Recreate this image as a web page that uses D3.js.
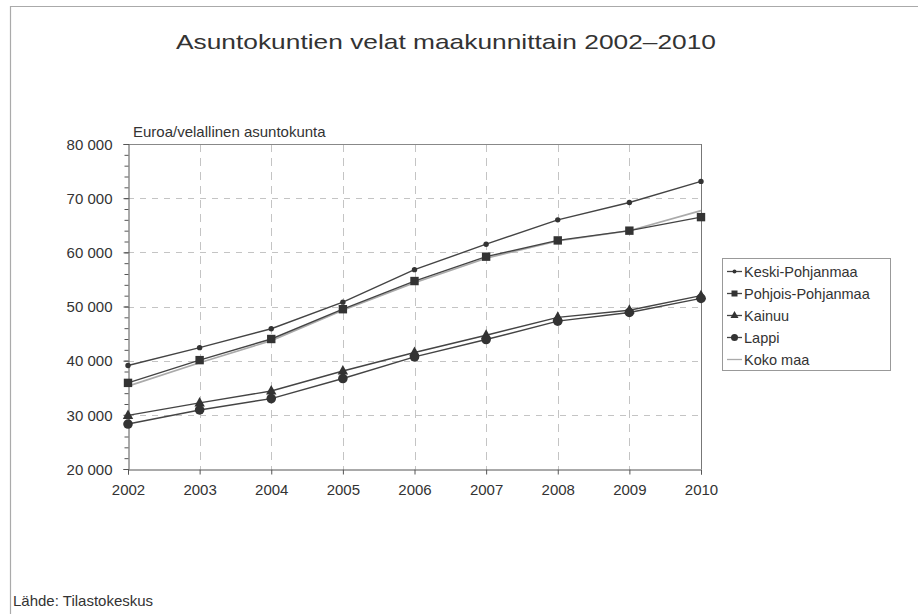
<!DOCTYPE html>
<html><head><meta charset="utf-8">
<script src="https://cdn.jsdelivr.net/npm/d3@7"></script>
<style>body{margin:0;background:#fff;}svg{display:block;font-family:"Liberation Sans",Arial,sans-serif;}</style>
</head><body>
<svg id="c" width="918" height="614"></svg>
<script>
const years = [2002,2003,2004,2005,2006,2007,2008,2009,2010];
const keskiPohjanmaa   = [39100,42400,45900,50800,56800,61500,66000,69200,73100];
const pohjoisPohjanmaa = [35900,40100,44000,49500,54700,59200,62200,64000,66500];
const kainuu           = [29900,32200,34400,38100,41500,44700,48000,49300,52000];
const lappi            = [28300,30900,33000,36700,40700,43900,47300,48900,51500];
const kokoMaa          = [35300,39600,43700,49300,54400,58900,62100,64000,67700];
const yTicks = [20000,30000,40000,50000,60000,70000,80000];
const series = [
  {name:"Keski-Pohjanmaa", values:keskiPohjanmaa, marker:"dot"},
  {name:"Pohjois-Pohjanmaa", values:pohjoisPohjanmaa, marker:"square"},
  {name:"Kainuu", values:kainuu, marker:"triangle"},
  {name:"Lappi", values:lappi, marker:"circle"},
  {name:"Koko maa", values:kokoMaa, marker:"none"}
];

const svg = d3.select("#c");
const L=128, R=701, T=144, B=469;
const x = d3.scaleLinear().domain([2002,2010]).range([L,R]);
const y = d3.scaleLinear().domain([20000,80000]).range([B,T]);
const fmt = v => d3.format(",")(v).replace(/,/g," ");
const FONT = "Liberation Sans,Arial,sans-serif";

// outer frame
svg.append("path").attr("d","M10.5,614 V6.5 H918").attr("fill","none").attr("stroke","#aaa").attr("stroke-width",1.2);

// title
svg.append("text").attr("x",446).attr("y",49).attr("text-anchor","middle")
  .attr("font-size",21).attr("fill","#333").attr("textLength",540).attr("lengthAdjust","spacingAndGlyphs")
  .text("Asuntokuntien velat maakunnittain 2002–2010");

// grid
const g = svg.append("g");
g.selectAll(".hg").data(yTicks.filter(d=>d>20000 && d<80000)).join("line")
  .attr("x1",L).attr("x2",R).attr("y1",d=>Math.round(y(d))+0.5).attr("y2",d=>Math.round(y(d))+0.5)
  .attr("stroke","#c4c4c4").attr("stroke-dasharray","6,6");
g.selectAll(".vg").data(years.slice(1,-1)).join("line")
  .attr("x1",d=>Math.round(x(d))+0.5).attr("x2",d=>Math.round(x(d))+0.5).attr("y1",T).attr("y2",B)
  .attr("stroke","#c4c4c4").attr("stroke-dasharray","8,6");

// frame top/right
g.append("line").attr("x1",L).attr("x2",R+0.5).attr("y1",T+0.5).attr("y2",T+0.5).attr("stroke","#888");
g.append("line").attr("x1",R+0.5).attr("x2",R+0.5).attr("y1",T).attr("y2",B).attr("stroke","#777");

// axes
const yAxis = d3.axisLeft(y).tickValues(yTicks).tickFormat(fmt).tickSize(5).tickPadding(11);
const ya = svg.append("g").attr("transform",`translate(${L+0.5},0)`).call(yAxis);
const yMinor = d3.axisLeft(y).tickValues(d3.range(20000,80001,2000)).tickFormat("").tickSize(4);
svg.append("g").attr("transform",`translate(${L+0.5},0)`).call(yMinor).select(".domain").remove();
const xAxis = d3.axisBottom(x).tickValues(years).tickFormat(d3.format("d")).tickSize(5).tickPadding(10);
const xa = svg.append("g").attr("transform",`translate(0,${B+0.5})`).call(xAxis);
svg.selectAll(".domain").attr("stroke","#555");
svg.selectAll(".tick line").attr("stroke","#555");
svg.selectAll(".tick text").attr("font-size",15).attr("fill","#333").attr("font-family",FONT);
ya.selectAll(".tick text").attr("dy","0.35em");

// unit label
svg.append("text").attr("x",133).attr("y",137).attr("font-size",15).attr("fill","#333").text("Euroa/velallinen asuntokunta");

// lines
const line = d3.line().x((d,i)=>x(years[i])).y(d=>y(d));
const drawOrder = [series[4],series[0],series[1],series[2],series[3]];
drawOrder.forEach(s=>{
  svg.append("path").datum(s.values).attr("d",line).attr("fill","none")
    .attr("stroke", s.marker==="none" ? "#aaa" : "#444")
    .attr("stroke-width", s.marker==="none" ? 1.6 : 1.4);
});

function marker(sel, type, cx, cy){
  if(type==="dot") sel.append("circle").attr("cx",cx).attr("cy",cy).attr("r",2.7).attr("fill","#333");
  else if(type==="circle") sel.append("circle").attr("cx",cx).attr("cy",cy).attr("r",4.8).attr("fill","#333");
  else if(type==="square") sel.append("rect").attr("x",cx-4.2).attr("y",cy-4.2).attr("width",8.4).attr("height",8.4).attr("fill","#333");
  else if(type==="triangle") sel.append("path").attr("d",`M${cx},${cy-6}L${cx+5.2},${cy+3.5}L${cx-5.2},${cy+3.5}Z`).attr("fill","#333");
}
series.forEach(s=>{
  if(s.marker==="none") return;
  const mg = svg.append("g");
  s.values.forEach((v,i)=>marker(mg,s.marker,x(years[i]),y(v)));
});

// legend
const lg = svg.append("g");
lg.append("rect").attr("x",722.5).attr("y",258.5).attr("width",168).attr("height",112).attr("fill","#fff").attr("stroke","#999");
series.forEach((s,i)=>{
  const cy = 271.5 + i*22;
  lg.append("line").attr("x1",727).attr("x2",742).attr("y1",cy).attr("y2",cy)
    .attr("stroke", s.marker==="none" ? "#aaa" : "#444").attr("stroke-width",1.3);
  if(s.marker==="dot") lg.append("circle").attr("cx",734.5).attr("cy",cy).attr("r",2).attr("fill","#333");
  else if(s.marker==="square") lg.append("rect").attr("x",731.5).attr("y",cy-3).attr("width",6).attr("height",6).attr("fill","#333");
  else if(s.marker==="triangle") lg.append("path").attr("d",`M734.5,${cy-4.5}L738.5,${cy+2.5}L730.5,${cy+2.5}Z`).attr("fill","#333");
  else if(s.marker==="circle") lg.append("circle").attr("cx",734.5).attr("cy",cy).attr("r",3.5).attr("fill","#333");
  lg.append("text").attr("x",744).attr("y",cy).attr("dy","0.35em").attr("font-size",14.5).attr("fill","#333").text(s.name);
});

// source
svg.append("text").attr("x",13).attr("y",606).attr("font-size",15).attr("fill","#333").text("Lähde: Tilastokeskus");
</script>
</body></html>
